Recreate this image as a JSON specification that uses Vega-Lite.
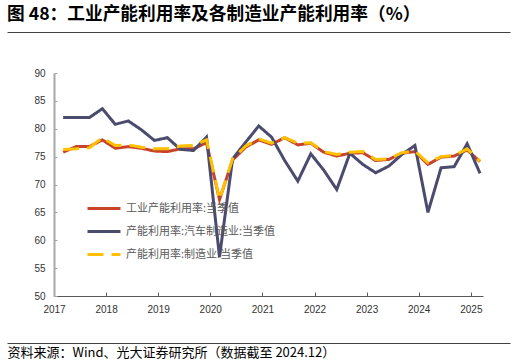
{
  "$schema": "https://vega.github.io/schema/vega-lite/v6.json",
  "autosize": "none",
  "width": 429,
  "height": 223,
  "padding": {"left": 54, "top": 73, "right": 33, "bottom": 68},
  "background": "#ffffff",
  "title": {
    "text": "图 48：工业产能利用率及各制造业产能利用率（%）",
    "anchor": "start",
    "frame": "group",
    "orient": "top",
    "font": "Noto Sans CJK SC",
    "fontSize": 17.7,
    "fontWeight": "bold",
    "color": "#000000",
    "dx": -47,
    "offset": 8
  },
  "config": {
    "view": {"stroke": null},
    "axis": {"grid": false}
  },
  "resolve": {"scale": {"x": "independent"}, "axis": {"x": "independent"}},
  "layer": [
    {
      "data": {
        "values": [
          {"date": "2017-03-06", "series": "工业产能利用率:当季值", "value": 75.8},
          {"date": "2017-06-06", "series": "工业产能利用率:当季值", "value": 76.8},
          {"date": "2017-09-06", "series": "工业产能利用率:当季值", "value": 76.8},
          {"date": "2017-12-06", "series": "工业产能利用率:当季值", "value": 78.0},
          {"date": "2018-03-06", "series": "工业产能利用率:当季值", "value": 76.5},
          {"date": "2018-06-06", "series": "工业产能利用率:当季值", "value": 76.8},
          {"date": "2018-09-06", "series": "工业产能利用率:当季值", "value": 76.5},
          {"date": "2018-12-06", "series": "工业产能利用率:当季值", "value": 76.0},
          {"date": "2019-03-06", "series": "工业产能利用率:当季值", "value": 75.9},
          {"date": "2019-06-06", "series": "工业产能利用率:当季值", "value": 76.4},
          {"date": "2019-09-06", "series": "工业产能利用率:当季值", "value": 76.4},
          {"date": "2019-12-06", "series": "工业产能利用率:当季值", "value": 77.5},
          {"date": "2020-03-06", "series": "工业产能利用率:当季值", "value": 67.3},
          {"date": "2020-06-06", "series": "工业产能利用率:当季值", "value": 74.4},
          {"date": "2020-09-06", "series": "工业产能利用率:当季值", "value": 76.7},
          {"date": "2020-12-06", "series": "工业产能利用率:当季值", "value": 78.0},
          {"date": "2021-03-06", "series": "工业产能利用率:当季值", "value": 77.2},
          {"date": "2021-06-06", "series": "工业产能利用率:当季值", "value": 78.4},
          {"date": "2021-09-06", "series": "工业产能利用率:当季值", "value": 77.1},
          {"date": "2021-12-06", "series": "工业产能利用率:当季值", "value": 77.4},
          {"date": "2022-03-06", "series": "工业产能利用率:当季值", "value": 75.8},
          {"date": "2022-06-06", "series": "工业产能利用率:当季值", "value": 75.1},
          {"date": "2022-09-06", "series": "工业产能利用率:当季值", "value": 75.6},
          {"date": "2022-12-06", "series": "工业产能利用率:当季值", "value": 75.7},
          {"date": "2023-03-06", "series": "工业产能利用率:当季值", "value": 74.3},
          {"date": "2023-06-06", "series": "工业产能利用率:当季值", "value": 74.5},
          {"date": "2023-09-06", "series": "工业产能利用率:当季值", "value": 75.6},
          {"date": "2023-12-06", "series": "工业产能利用率:当季值", "value": 75.9},
          {"date": "2024-03-06", "series": "工业产能利用率:当季值", "value": 73.6},
          {"date": "2024-06-06", "series": "工业产能利用率:当季值", "value": 74.9},
          {"date": "2024-09-06", "series": "工业产能利用率:当季值", "value": 75.1},
          {"date": "2024-12-06", "series": "工业产能利用率:当季值", "value": 76.2},
          {"date": "2025-03-06", "series": "工业产能利用率:当季值", "value": 74.1},
          {"date": "2017-03-06", "series": "产能利用率:汽车制造业:当季值", "value": 82.0},
          {"date": "2017-06-06", "series": "产能利用率:汽车制造业:当季值", "value": 82.0},
          {"date": "2017-09-06", "series": "产能利用率:汽车制造业:当季值", "value": 82.0},
          {"date": "2017-12-06", "series": "产能利用率:汽车制造业:当季值", "value": 83.6},
          {"date": "2018-03-06", "series": "产能利用率:汽车制造业:当季值", "value": 80.8},
          {"date": "2018-06-06", "series": "产能利用率:汽车制造业:当季值", "value": 81.4},
          {"date": "2018-09-06", "series": "产能利用率:汽车制造业:当季值", "value": 79.8},
          {"date": "2018-12-06", "series": "产能利用率:汽车制造业:当季值", "value": 77.9},
          {"date": "2019-03-06", "series": "产能利用率:汽车制造业:当季值", "value": 78.4},
          {"date": "2019-06-06", "series": "产能利用率:汽车制造业:当季值", "value": 76.3},
          {"date": "2019-09-06", "series": "产能利用率:汽车制造业:当季值", "value": 76.1},
          {"date": "2019-12-06", "series": "产能利用率:汽车制造业:当季值", "value": 78.5},
          {"date": "2020-03-06", "series": "产能利用率:汽车制造业:当季值", "value": 57.0},
          {"date": "2020-06-06", "series": "产能利用率:汽车制造业:当季值", "value": 74.6},
          {"date": "2020-09-06", "series": "产能利用率:汽车制造业:当季值", "value": 77.6},
          {"date": "2020-12-06", "series": "产能利用率:汽车制造业:当季值", "value": 80.5},
          {"date": "2021-03-06", "series": "产能利用率:汽车制造业:当季值", "value": 78.5},
          {"date": "2021-06-06", "series": "产能利用率:汽车制造业:当季值", "value": 74.3},
          {"date": "2021-09-06", "series": "产能利用率:汽车制造业:当季值", "value": 70.6},
          {"date": "2021-12-06", "series": "产能利用率:汽车制造业:当季值", "value": 75.5},
          {"date": "2022-03-06", "series": "产能利用率:汽车制造业:当季值", "value": 72.6},
          {"date": "2022-06-06", "series": "产能利用率:汽车制造业:当季值", "value": 69.1},
          {"date": "2022-09-06", "series": "产能利用率:汽车制造业:当季值", "value": 75.6},
          {"date": "2022-12-06", "series": "产能利用率:汽车制造业:当季值", "value": 73.6},
          {"date": "2023-03-06", "series": "产能利用率:汽车制造业:当季值", "value": 72.1},
          {"date": "2023-06-06", "series": "产能利用率:汽车制造业:当季值", "value": 73.3},
          {"date": "2023-09-06", "series": "产能利用率:汽车制造业:当季值", "value": 75.4},
          {"date": "2023-12-06", "series": "产能利用率:汽车制造业:当季值", "value": 77.0},
          {"date": "2024-03-06", "series": "产能利用率:汽车制造业:当季值", "value": 65.0},
          {"date": "2024-06-06", "series": "产能利用率:汽车制造业:当季值", "value": 73.0},
          {"date": "2024-09-06", "series": "产能利用率:汽车制造业:当季值", "value": 73.2},
          {"date": "2024-12-06", "series": "产能利用率:汽车制造业:当季值", "value": 77.3},
          {"date": "2025-03-06", "series": "产能利用率:汽车制造业:当季值", "value": 72.0},
          {"date": "2017-03-06", "series": "产能利用率:制造业:当季值", "value": 76.3},
          {"date": "2017-06-06", "series": "产能利用率:制造业:当季值", "value": 76.4},
          {"date": "2017-09-06", "series": "产能利用率:制造业:当季值", "value": 76.6},
          {"date": "2017-12-06", "series": "产能利用率:制造业:当季值", "value": 78.4},
          {"date": "2018-03-06", "series": "产能利用率:制造业:当季值", "value": 77.0},
          {"date": "2018-06-06", "series": "产能利用率:制造业:当季值", "value": 77.1},
          {"date": "2018-09-06", "series": "产能利用率:制造业:当季值", "value": 76.7},
          {"date": "2018-12-06", "series": "产能利用率:制造业:当季值", "value": 76.4},
          {"date": "2019-03-06", "series": "产能利用率:制造业:当季值", "value": 76.4},
          {"date": "2019-06-06", "series": "产能利用率:制造业:当季值", "value": 76.9},
          {"date": "2019-09-06", "series": "产能利用率:制造业:当季值", "value": 77.0},
          {"date": "2019-12-06", "series": "产能利用率:制造业:当季值", "value": 78.0},
          {"date": "2020-03-06", "series": "产能利用率:制造业:当季值", "value": 67.3},
          {"date": "2020-06-06", "series": "产能利用率:制造业:当季值", "value": 74.6},
          {"date": "2020-09-06", "series": "产能利用率:制造业:当季值", "value": 76.9},
          {"date": "2020-12-06", "series": "产能利用率:制造业:当季值", "value": 78.2},
          {"date": "2021-03-06", "series": "产能利用率:制造业:当季值", "value": 77.4},
          {"date": "2021-06-06", "series": "产能利用率:制造业:当季值", "value": 78.4},
          {"date": "2021-09-06", "series": "产能利用率:制造业:当季值", "value": 77.4},
          {"date": "2021-12-06", "series": "产能利用率:制造业:当季值", "value": 77.5},
          {"date": "2022-03-06", "series": "产能利用率:制造业:当季值", "value": 75.9},
          {"date": "2022-06-06", "series": "产能利用率:制造业:当季值", "value": 75.4},
          {"date": "2022-09-06", "series": "产能利用率:制造业:当季值", "value": 75.8},
          {"date": "2022-12-06", "series": "产能利用率:制造业:当季值", "value": 75.9},
          {"date": "2023-03-06", "series": "产能利用率:制造业:当季值", "value": 74.5},
          {"date": "2023-06-06", "series": "产能利用率:制造业:当季值", "value": 74.6},
          {"date": "2023-09-06", "series": "产能利用率:制造业:当季值", "value": 75.7},
          {"date": "2023-12-06", "series": "产能利用率:制造业:当季值", "value": 76.0},
          {"date": "2024-03-06", "series": "产能利用率:制造业:当季值", "value": 73.9},
          {"date": "2024-06-06", "series": "产能利用率:制造业:当季值", "value": 75.0},
          {"date": "2024-09-06", "series": "产能利用率:制造业:当季值", "value": 75.2},
          {"date": "2024-12-06", "series": "产能利用率:制造业:当季值", "value": 76.4},
          {"date": "2025-03-06", "series": "产能利用率:制造业:当季值", "value": 74.2}
        ]
      },
      "mark": {"type": "line", "strokeWidth": 3, "clip": false},
      "encoding": {
        "x": {
          "field": "date",
          "type": "temporal",
          "scale": {"type": "utc", "domain": ["2017-01-01", "2025-03-27"], "nice": false},
          "axis": {
            "orient": "bottom",
            "format": "%Y",
            "tickCount": {"interval": "year", "step": 1},
            "domainColor": "#595959",
            "domainWidth": 1,
            "tickColor": "#595959",
            "tickSize": -4,
            "labelPadding": 12,
            "labelFont": "Liberation Sans",
            "labelFontSize": 10,
            "labelColor": "#333333",
            "labelFlush": false,
            "labelOverlap": false,
            "title": "资料来源：Wind、光大证券研究所（数据截至 2024.12）",
            "titleX": -47,
            "titleY": 56,
            "titleAlign": "left",
            "titleBaseline": "middle",
            "titleFont": "Noto Sans CJK SC",
            "titleFontSize": 13,
            "titleFontWeight": "normal",
            "titleColor": "#000000"
          }
        },
        "y": {
          "field": "value",
          "type": "quantitative",
          "scale": {"domain": [50, 90], "nice": false, "zero": false},
          "axis": {
            "values": [50, 55, 60, 65, 70, 75, 80, 85, 90],
            "domainColor": "#A6A6A6",
            "domainWidth": 2,
            "tickColor": "#A6A6A6",
            "tickSize": -3,
            "labelPadding": 12,
            "labelFont": "Liberation Sans",
            "labelFontSize": 10,
            "labelColor": "#333333",
            "title": null
          }
        },
        "color": {
          "field": "series",
          "type": "nominal",
          "scale": {
            "domain": ["工业产能利用率:当季值", "产能利用率:汽车制造业:当季值", "产能利用率:制造业:当季值"],
            "range": ["#C8432A", "#4B4B6E", "#FFC000"]
          },
          "legend": {
            "orient": "none",
            "legendX": 40,
            "legendY": 125.5,
            "title": null,
            "symbolType": "M-2,0H2",
            "symbolSize": 272,
            "symbolStrokeWidth": 3,
            "labelFont": "Noto Sans CJK SC",
            "labelFontSize": 11,
            "labelColor": "#595959",
            "labelOffset": 12,
            "rowPadding": 7,
            "padding": 0
          }
        },
        "strokeDash": {
          "field": "series",
          "type": "nominal",
          "scale": {
            "domain": ["工业产能利用率:当季值", "产能利用率:汽车制造业:当季值", "产能利用率:制造业:当季值"],
            "range": [[1, 0], [1, 0], [16, 8]]
          },
          "legend": null
        }
      }
    },
    {
      "data": {"values": [{"frac": 0}, {"frac": 1}]},
      "mark": {"type": "point", "opacity": 0},
      "encoding": {
        "x": {
          "field": "frac",
          "type": "quantitative",
          "scale": {"domain": [0, 1], "range": [-47, 456], "nice": false, "zero": false},
          "axis": {
            "orient": "top",
            "offset": 41,
            "ticks": false,
            "labels": false,
            "domain": true,
            "domainColor": "#404040",
            "domainWidth": 1,
            "domainOpacity": 1,
            "zindex": 1,
            "title": null,
            "grid": false
          }
        }
      }
    },
    {
      "data": {"values": [{"frac": 0}, {"frac": 1}]},
      "mark": {"type": "point", "opacity": 0},
      "encoding": {
        "x": {
          "field": "frac",
          "type": "quantitative",
          "scale": {"domain": [0, 1], "range": [-47, 456], "nice": false, "zero": false},
          "axis": {
            "orient": "bottom",
            "offset": 47,
            "ticks": false,
            "labels": false,
            "domain": true,
            "domainColor": "#404040",
            "domainWidth": 1,
            "domainOpacity": 1,
            "zindex": 1,
            "title": null,
            "grid": false
          }
        }
      }
    }
  ]
}
